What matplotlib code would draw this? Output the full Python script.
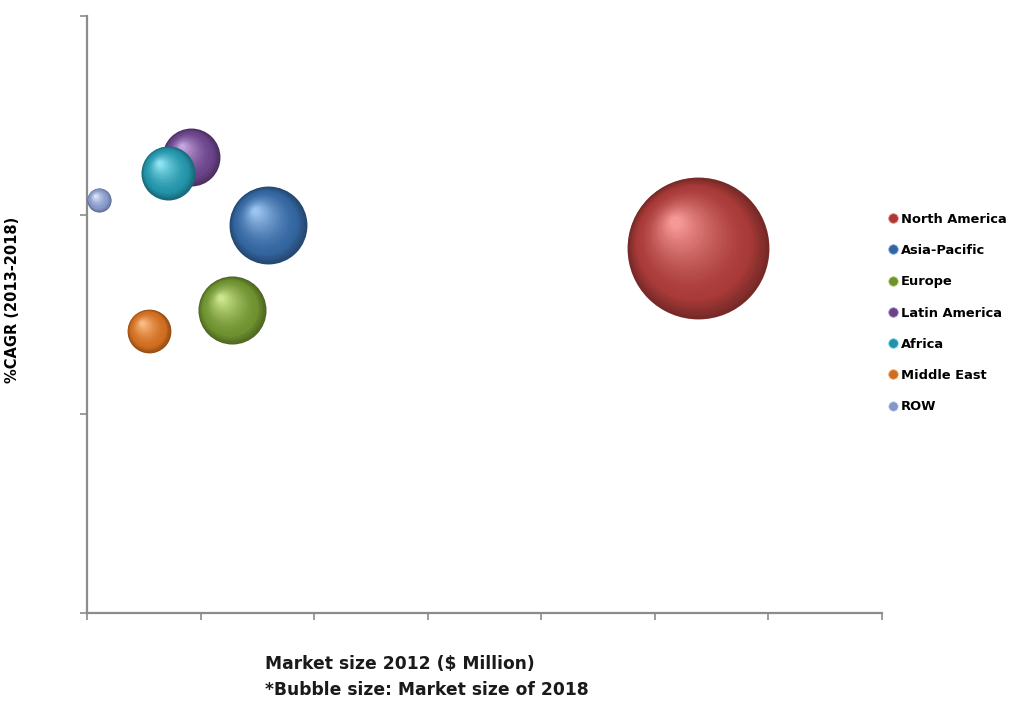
import numpy as np
import matplotlib
matplotlib.use("Agg")
import matplotlib.pyplot as plt
from matplotlib.colors import to_rgb
from matplotlib.lines import Line2D
from matplotlib.transforms import ScaledTranslation

plt.rcParams['font.family'] = ['DejaVu Sans']

# data (axis has no tick labels, units are estimates)
regions = ['North America', 'Asia-Pacific', 'Europe', 'Latin America',
           'Africa', 'Middle East', 'ROW']
market_2012 = [2690, 797, 638, 458, 357, 273, 53]          # $ Million
cagr = [9.17, 9.75, 7.61, 11.46, 11.06, 7.09, 10.38]        # %
market_2018 = [5040, 1520, 1160, 840, 730, 480, 145]        # bubble size
base_colors = ['#a83a38', '#33659f', '#6f9230', '#6a4388',
               '#2393a9', '#d06d20', '#8497c8']
light_colors = ['#f59896', '#9cc4f0', '#cde68e', '#c4a6e0',
                '#8ee4f2', '#fbbd84', '#dde6f8']

SIZE_SCALE = 2.07


def mix(c1, c2, t):
    a, b = np.array(to_rgb(c1)), np.array(to_rgb(c2))
    return tuple(a + (b - a) * t)


def draw_sphere(ax, fig, x, y, s, base, light, z0, n=40):
    r_pt = np.sqrt(s) / 2
    dark = mix(base, '#000000', 0.3)
    hx, hy = -0.35, 0.4
    for k in range(n):
        t = k / (n - 1)
        f = 1 - 0.92 * t
        off = ScaledTranslation(hx * (1 - f) * r_pt / 72, hy * (1 - f) * r_pt / 72,
                                fig.dpi_scale_trans)
        if t < 0.2:
            col = mix(dark, base, t / 0.2)
        else:
            col = mix(base, light, ((t - 0.2) / 0.8) ** 1.5)
        ax.scatter([x], [y], s=s * f ** 2, color=col, linewidths=0,
                   transform=ax.transData + off, zorder=z0 + k * 0.001)


fig = plt.figure(figsize=(10.15, 7.05), dpi=100)
ax = fig.add_axes([0.0857, 0.1305, 0.783, 0.8465])

order = np.argsort(market_2018)[::-1]
for j, i in enumerate(order):
    draw_sphere(ax, fig, market_2012[i], cagr[i], market_2018[i] * SIZE_SCALE,
                base_colors[i], light_colors[i], z0=3 + j)

ax.set_xlim(0, 3500)
ax.set_ylim(0, 15)
ax.set_xticks(np.arange(0, 3501, 500))
ax.set_yticks(np.arange(0, 16, 5))
ax.set_xticklabels([])
ax.set_yticklabels([])
for side in ['top', 'right']:
    ax.spines[side].set_visible(False)
for side in ['left', 'bottom']:
    ax.spines[side].set_color('#8c8c8c')
    ax.spines[side].set_linewidth(1.6)
ax.tick_params(color='#8c8c8c', width=1.2, length=5, direction='out')

ax.set_ylabel('%CAGR (2013-2018)', fontsize=10.5, fontweight='bold')
ax.yaxis.set_label_coords(-0.084, 0.524)

fig.text(0.261, 0.058, 'Market size 2012 ($ Million)', fontsize=12.3,
         fontweight='bold', color='#1a1a1a', va='center')
fig.text(0.261, 0.021, '*Bubble size: Market size of 2018', fontsize=12.3,
         fontweight='bold', color='#1a1a1a', va='center')

handles = [Line2D([], [], marker='o', linestyle='', markersize=7,
                  markerfacecolor=base_colors[i], markeredgecolor=light_colors[i],
                  markeredgewidth=0.6)
           for i in range(len(regions))]
fig.legend(handles, regions, loc='upper left', bbox_to_anchor=(0.862, 0.715),
           frameon=False, handletextpad=0.1, labelspacing=1.4,
           handlelength=1.0, prop={'weight': 'bold', 'size': 9.4})

fig.savefig('out.png', dpi=100)
